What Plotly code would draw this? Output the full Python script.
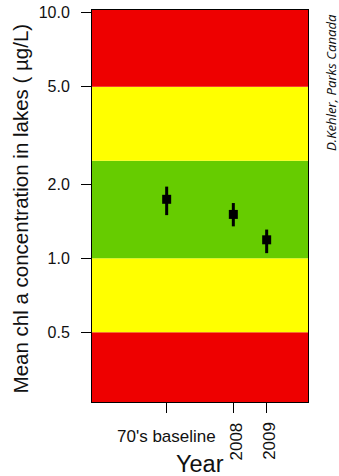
import math
import plotly.graph_objects as go

# ---- data ----
categories = ["70's baseline", "2008", "2009"]
x_pos = [2006, 2008, 2009]
means = [1.74, 1.51, 1.19]
upper = [1.96, 1.68, 1.31]
lower = [1.50, 1.35, 1.05]

band_edges = [0.1, 0.5, 1.0, 2.5, 5.0, 20.0]
band_colors = ["#EE0000", "#FFFF00", "#66CC00", "#FFFF00", "#EE0000"]

y_tick_vals = [0.5, 1.0, 2.0, 5.0, 10.0]
y_tick_text = ["0.5", "1.0", "2.0", "5.0", "10.0"]

x_range = [2003.76, 2010.24]
y_range = [0.26, 10.27]

FONT = "Liberation Sans, Arial, sans-serif"

fig = go.Figure()

for i, c in enumerate(band_colors):
    lo, hi = band_edges[i], band_edges[i + 1]
    fig.add_trace(go.Scatter(
        x=[x_range[0] - 1, x_range[1] + 1, x_range[1] + 1, x_range[0] - 1, x_range[0] - 1],
        y=[lo, lo, hi, hi, lo],
        fill="toself", fillcolor=c, mode="lines", line=dict(width=0),
        hoverinfo="skip", showlegend=False))

fig.add_trace(go.Scatter(
    x=x_pos, y=means, mode="markers",
    marker=dict(symbol="square", size=9, color="black"),
    error_y=dict(type="data", symmetric=False,
                 array=[u - m for u, m in zip(upper, means)],
                 arrayminus=[m - l for m, l in zip(means, lower)],
                 color="black", thickness=3, width=0),
    showlegend=False))

# x tick labels
for xp, lab in zip(x_pos, categories):
    if lab.isdigit():
        fig.add_annotation(x=xp, xref="x", y=-0.100, yref="paper", text=lab,
                           textangle=-90, showarrow=False, xshift=3,
                           font=dict(family=FONT, size=17, color="#111"),
                           xanchor="center", yanchor="middle")
    else:
        fig.add_annotation(x=xp, xref="x", y=-0.089, yref="paper", text=lab,
                           showarrow=False,
                           font=dict(family=FONT, size=17, color="#111"),
                           xanchor="center", yanchor="middle")

fig.add_annotation(x=0.5, xref="paper", y=-0.158, yref="paper", text="Year",
                   showarrow=False, font=dict(family=FONT, size=23.5, color="#111"),
                   xanchor="center", yanchor="middle")
fig.add_annotation(x=-0.333, xref="paper", y=0.494, yref="paper",
                   text="Mean chl a concentration in lakes ( µg/L)",
                   textangle=-90, showarrow=False,
                   font=dict(family=FONT, size=20.5, color="#111"),
                   xanchor="center", yanchor="middle")
fig.add_annotation(x=1.104, xref="paper", y=0.815, yref="paper",
                   text="<i>D.Kehler, Parks Canada</i>",
                   textangle=-90, showarrow=False,
                   font=dict(family="Open Sans, sans-serif", size=13.2, color="#111"),
                   xanchor="center", yanchor="middle")

fig.update_layout(
    width=339, height=476,
    margin=dict(l=92, r=31, t=10, b=74, autoexpand=False),
    paper_bgcolor="white", plot_bgcolor="white",
    xaxis=dict(range=x_range, tickvals=x_pos, showticklabels=False,
               ticks="outside", ticklen=10, tickcolor="black", tickwidth=1,
               showline=True, linecolor="black", linewidth=1, mirror=True,
               showgrid=False, zeroline=False, automargin=False),
    yaxis=dict(type="log", range=[math.log10(y_range[0]), math.log10(y_range[1])],
               tickvals=y_tick_vals, ticktext=y_tick_text,
               ticks="outside", ticklen=10, tickcolor="black", tickwidth=1,
               ticklabelstandoff=8,
               tickfont=dict(family=FONT, size=16, color="#111"),
               showline=True, linecolor="black", linewidth=1, mirror=True,
               showgrid=False, zeroline=False, automargin=False),
)

fig.write_html("out.html")
